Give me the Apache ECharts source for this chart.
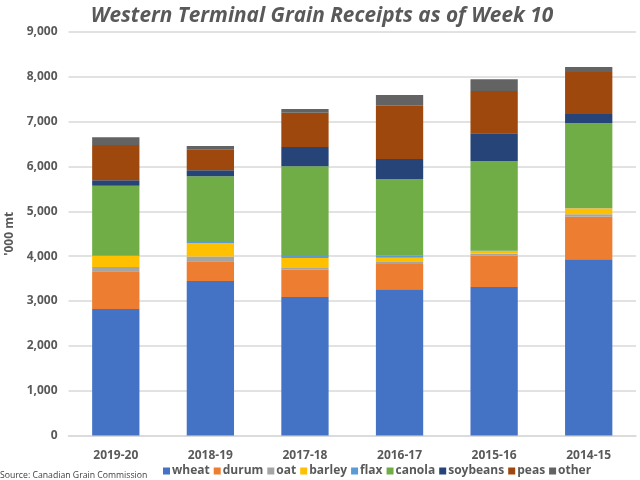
<!DOCTYPE html>
<html lang="en">
<head>
    <meta charset="utf-8"/>
    <script src="https://cdn.jsdelivr.net/npm/echarts@6/dist/echarts.min.js"></script>
</head>

<body style="height: 100%; margin: 0; background: #fff">
<div id="container" style="width: 640px;height:480px;"></div>
<script type="text/javascript">
    var years = ['2019-20', '2018-19', '2017-18', '2016-17', '2015-16', '2014-15'];

    // '000 mt
    var wheat = [2822, 3446, 3089, 3260, 3312, 3930];
    var durum = [840, 439, 610, 565, 698, 951];
    var oat = [96, 105, 37, 45, 45, 53];
    var barley = [245, 304, 223, 96, 60, 134];
    var flax = [6, 22, 44, 44, 7, 8];
    var canola = [1564, 1465, 2001, 1712, 1994, 1888];
    var soybeans = [119, 134, 431, 446, 624, 208];
    var peas = [788, 469, 765, 1189, 944, 936];
    var other = [170, 74, 83, 238, 261, 112];

    var seriesNames = ['wheat', 'durum', 'oat', 'barley', 'flax', 'canola', 'soybeans', 'peas', 'other'];
    var seriesValues = [wheat, durum, oat, barley, flax, canola, soybeans, peas, other];
    var colors = ['#4472C4', '#ED7D31', '#A5A5A5', '#FFC000', '#5B9BD5', '#70AD47', '#264478', '#9E480E', '#636363'];

    var myChart = echarts.init(document.getElementById('container'));

    var font = '"Open Sans", "Noto Sans", sans-serif';

    var option = {
        animation: false,
        color: colors,
        textStyle: {fontFamily: font},
        title: [{
            text: 'Western Terminal Grain Receipts as of Week 10',
            left: 317,
            top: 1,
            textAlign: 'center',
            textStyle: {fontFamily: font, fontSize: 20.8, fontWeight: 'bold', fontStyle: 'italic', color: '#595959'}
        }, {
            text: 'Source: Canadian Grain Commission',
            left: -5,
            top: 466,
            textStyle: {fontFamily: font, fontSize: 8.7, fontWeight: 'normal', color: '#404040'}
        }],
        legend: {
            left: 158,
            top: 460,
            itemWidth: 7,
            itemHeight: 7,
            itemGap: 4,
            icon: 'rect',
            textStyle: {fontFamily: font, fontSize: 12, fontWeight: 'bold', color: '#595959', padding: [0, 0, 0, -3]}
        },
        grid: {left: 68.5, right: 4, top: 32, bottom: 44.5, outerBoundsMode: 'none'},
        xAxis: {
            type: 'category',
            data: years,
            axisLine: {lineStyle: {color: '#D9D9D9', width: 1.5}},
            axisTick: {show: false},
            axisLabel: {fontFamily: font, fontSize: 12, fontWeight: 'bold', color: '#595959', margin: 14}
        },
        yAxis: {
            type: 'value',
            min: 0,
            max: 9000,
            interval: 1000,
            name: "'000 mt",
            nameLocation: 'middle',
            nameGap: 50,
            nameTextStyle: {fontFamily: font, fontSize: 12, fontWeight: 'bold', color: '#595959'},
            axisLine: {show: false},
            axisTick: {show: false},
            axisLabel: {
                fontFamily: font, fontSize: 12, fontWeight: 'bold', color: '#595959', margin: 11,
                formatter: function (v) { return v.toLocaleString('en-US'); }
            },
            splitLine: {lineStyle: {color: '#D9D9D9', width: 1.5}}
        },
        series: seriesNames.map(function (name, i) {
            return {name: name, type: 'bar', stack: 'total', barWidth: '50%', data: seriesValues[i]};
        })
    };

    myChart.setOption(option);
</script>
</body>

</html>
